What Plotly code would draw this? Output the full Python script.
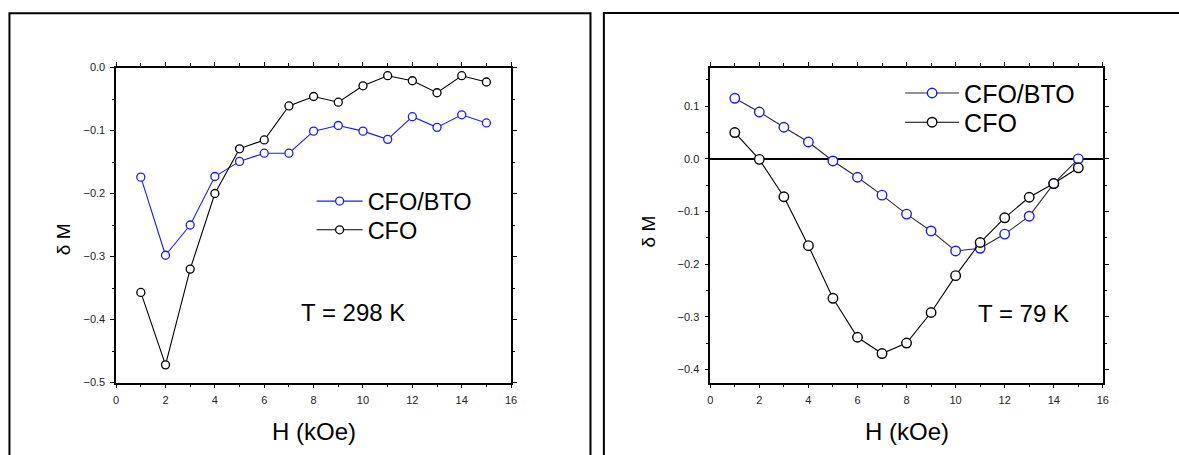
import plotly.graph_objects as go

W, H = 1179, 455

# ---------------- data ----------------
H_kOe = [1, 2, 3, 4, 5, 6, 7, 8, 9, 10, 11, 12, 13, 14, 15]

bto_298 = [-0.174, -0.298, -0.250, -0.173, -0.149, -0.136, -0.136, -0.101,
           -0.092, -0.101, -0.114, -0.078, -0.095, -0.075, -0.088]
cfo_298 = [-0.357, -0.472, -0.320, -0.200, -0.129, -0.115, -0.061, -0.046,
           -0.055, -0.029, -0.013, -0.021, -0.040, -0.013, -0.023]

bto_79 = [0.115, 0.089, 0.060, 0.032, -0.004, -0.035, -0.069, -0.105,
          -0.137, -0.175, -0.170, -0.143, -0.109, -0.047, 0.000]
cfo_79 = [0.050, -0.001, -0.072, -0.165, -0.265, -0.339, -0.370, -0.350,
          -0.292, -0.222, -0.159, -0.112, -0.073, -0.047, -0.017]

series_names = ["CFO/BTO", "CFO"]
x_title = "H (kOe)"
y_title = "\u03b4 M"
temp_labels = ["T = 298 K", "T = 79 K"]

FONT = "Liberation Sans, Arial, sans-serif"
BLUE = "#1a1aff"


def px_x(p):
    return p / W


def px_y(p):
    return 1 - p / H


fig = go.Figure()

# left panel traces
fig.add_trace(go.Scatter(
    x=H_kOe, y=bto_298, name=series_names[0], mode="lines+markers",
    line=dict(color=BLUE, width=1.1),
    marker=dict(symbol="circle", size=8, color="white", line=dict(color=BLUE, width=1.3)),
    xaxis="x", yaxis="y", legend="legend"))
fig.add_trace(go.Scatter(
    x=H_kOe, y=cfo_298, name=series_names[1], mode="lines+markers",
    line=dict(color="black", width=1.1),
    marker=dict(symbol="circle", size=8, color="white", line=dict(color="black", width=1.3)),
    xaxis="x", yaxis="y", legend="legend2"))

# right panel traces
fig.add_trace(go.Scatter(
    x=H_kOe, y=bto_79, name=series_names[0], mode="lines+markers",
    line=dict(color="#2a2a2a", width=1.1),
    marker=dict(symbol="circle", size=9.5, color="white", line=dict(color=BLUE, width=1.4)),
    xaxis="x2", yaxis="y2", legend="legend3"))
fig.add_trace(go.Scatter(
    x=H_kOe, y=cfo_79, name=series_names[1], mode="lines+markers",
    line=dict(color="black", width=1.1),
    marker=dict(symbol="circle", size=9.5, color="white", line=dict(color="black", width=1.4)),
    xaxis="x2", yaxis="y2", legend="legend4"))

axis_common = dict(
    showline=True, linecolor="black", linewidth=1.5, mirror="allticks",
    ticks="outside", ticklen=4, tickwidth=1.2, tickcolor="black",
    showgrid=False, ticklabelstandoff=3,
    tickfont=dict(family=FONT, size=11, color="#222222"),
)

ydom = [px_y(386.7), px_y(63.2)]


def leg(xpx, ypx, size, iw):
    return dict(x=px_x(xpx), y=px_y(ypx), xanchor="left", yanchor="top",
                bgcolor="rgba(0,0,0,0)", borderwidth=0, itemwidth=iw,
                font=dict(family=FONT, size=size, color="black"), tracegroupgap=0)


fig.update_layout(
    width=W, height=H,
    margin=dict(l=0, r=0, t=0, b=0),
    paper_bgcolor="white", plot_bgcolor="white",
    font=dict(family=FONT, color="black"),
    xaxis=dict(domain=[px_x(114), px_x(512)], range=[0, 16], dtick=2, anchor="y",
               zeroline=False,
               minor=dict(dtick=1, ticks="outside", ticklen=2.5, tickcolor="black"),
               **axis_common),
    yaxis=dict(domain=ydom, range=[-0.5, 0.0], dtick=0.1, tickformat=".1f", anchor="x",
               zeroline=False,
               minor=dict(dtick=0.05, ticks="outside", ticklen=2.5, tickcolor="black"),
               **axis_common),
    xaxis2=dict(domain=[px_x(712.7), px_x(1108.3)], range=[0, 16], dtick=2, anchor="y2",
                zeroline=False,
                minor=dict(dtick=1, ticks="outside", ticklen=2.5, tickcolor="black"),
                **axis_common),
    yaxis2=dict(domain=ydom, range=[-0.425, 0.1735], dtick=0.1, tickformat=".1f", anchor="x2",
                zeroline=True, zerolinecolor="black", zerolinewidth=2,
                minor=dict(dtick=0.05, ticks="outside", ticklen=2.5, tickcolor="black"),
                **axis_common),
    legend=leg(311, 178, 23.5, 46),
    legend2=leg(311, 207.5, 23.5, 46),
    legend3=leg(904, 66, 25, 54),
    legend4=leg(904, 96, 25, 54),
    showlegend=True,
)

# outer frames
fig.add_shape(type="rect", xref="paper", yref="paper",
              x0=px_x(6.5), x1=px_x(592), y0=-0.2, y1=px_y(7.5),
              line=dict(color="black", width=2), fillcolor="rgba(0,0,0,0)", layer="above")
fig.add_shape(type="rect", xref="paper", yref="paper",
              x0=px_x(605.5), x1=1.2, y0=-0.2, y1=px_y(7.2),
              line=dict(color="black", width=2), fillcolor="rgba(0,0,0,0)", layer="above")

# axis titles and temperature labels
ann = []
for xc in (313, 910.5):
    ann.append(dict(text=x_title, xref="paper", yref="paper", x=px_x(xc), y=px_y(437.5),
                    xanchor="center", yanchor="middle", showarrow=False,
                    font=dict(family=FONT, size=24, color="black")))
for xc, yc in [(61, 240), (650.5, 232)]:
    ann.append(dict(text=y_title, xref="paper", yref="paper", x=px_x(xc), y=px_y(yc),
                    xanchor="center", yanchor="middle", showarrow=False, textangle=-90,
                    font=dict(family=FONT, size=19, color="black")))
ann.append(dict(text=temp_labels[0], xref="x", yref="y", x=9.6, y=-0.389,
                xanchor="center", yanchor="middle", showarrow=False,
                font=dict(family=FONT, size=24, color="black")))
ann.append(dict(text=temp_labels[1], xref="x2", yref="y2", x=12.75, y=-0.294,
                xanchor="center", yanchor="middle", showarrow=False,
                font=dict(family=FONT, size=24, color="black")))
fig.update_layout(annotations=ann)

fig.write_html("out.html")
